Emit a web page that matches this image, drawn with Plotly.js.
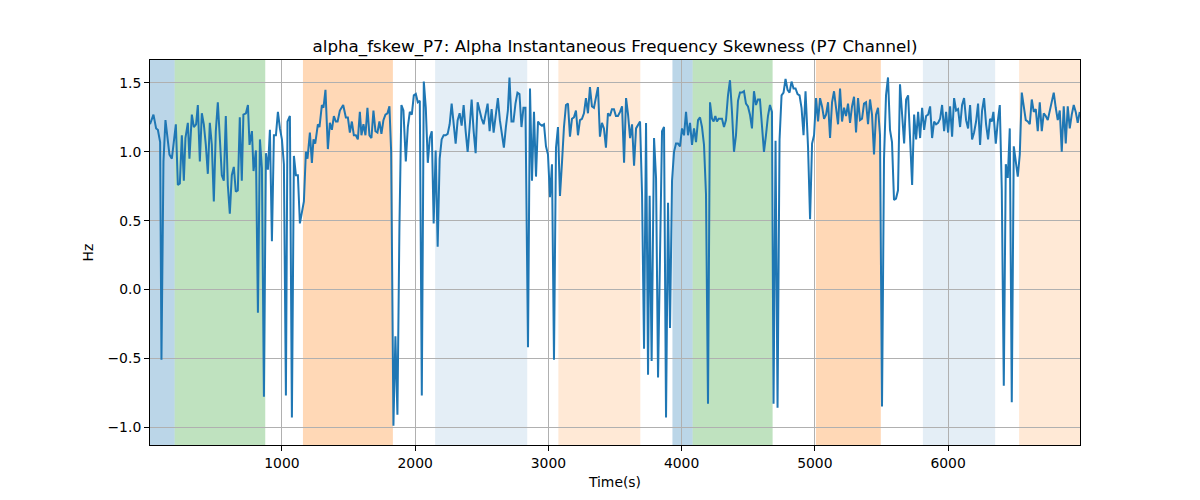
<!DOCTYPE html>
<html>
<head>
<meta charset="utf-8">
<script src="https://cdn.plot.ly/plotly-3.0.1.min.js"></script>
<style>html,body{margin:0;padding:0;background:#fff;}#chart{width:1200px;height:500px;}</style>
</head>
<body>
<div id="chart"></div>
<script>
const timeSec = [10,36,56,69,86,96,111,126,156,174,204,219,234,249,264,276,294,306,324,339,356,369,384,399,414,429,444,459,474,489,504,519,534,549,564,579,594,609,624,639,654,669,684,699,711,
730,745,757,775,787,805,820,835,850,865,880,895,910,925,940,955,970,985,1000,1015,1030,1042,1060,1075,1090,1105,1120,1135,1150,1165,1180,1192,1210,1225,1237,1250,1270,1282,1300,1312,1327,1345,1360,1375,1390,1405,
1418,1435,1460,1480,1495,1510,1525,1540,1555,1570,1585,1597,1612,1627,1642,1657,1672,1687,1702,1717,1732,1747,1762,1777,1792,1807,1820,1837,1852,1867,1882,1897,1912,1930,1945,1960,1975,1990,2005,2020,2035,2050,2065,2080,2095,2110,2125,
2139,2154,2169,2184,2199,2214,2229,2244,2259,2274,2289,2304,2319,2334,2349,2364,2379,2394,2409,2424,2439,2454,2469,2484,2499,2514,2529,2544,2559,2574,2589,2604,2621,2636,2651,2666,2681,2696,2708,2723,2738,2753,2768,2783,2798,2813,2828,
2847,2862,2877,2892,2907,2922,2937,2952,2967,2982,2997,3012,3027,3042,3057,3072,3087,3102,3117,3132,3147,3162,3177,3192,3207,3222,3237,3252,3267,3282,3297,3312,3327,3342,3357,3372,3387,3402,3417,3432,3447,3462,3477,3492,3507,3522,
3538,3553,3568,3583,3598,3613,3628,3643,3658,3673,3688,3703,3718,3733,3748,3760,3775,3793,3808,3823,3838,3853,3868,3883,3898,3913,3928,3943,3958,3973,3988,4003,4018,4033,4048,4063,4078,4093,4108,4123,4138,4153,4168,4183,4198,4213,4228,
4240,4253,4265,4278,4290,4303,4318,4333,4348,4363,4378,4393,4408,4423,4438,4453,4468,4483,4498,4513,4528,4543,4558,4573,4588,4603,4618,4633,4648,4663,4678,4690,4705,4720,4735,4750,4765,4780,4795,4810,4825,4840,4855,4870,4885,4900,4915,4930,
4949,4964,4979,4994,5009,5024,5039,5054,5069,5084,5099,5114,5129,5144,5159,5174,5189,5204,5219,5234,5249,5264,5279,5294,5309,5324,5339,5354,5369,5384,5399,5414,5429,5444,5459,5474,5489,5504,5519,5534,5549,5564,5579,5594,5609,5624,5639,
5655,5670,5685,5700,5715,5730,5745,5760,5775,5790,5805,5820,5835,5850,5865,5880,5895,5910,5925,5940,5955,5970,5985,6000,6015,6030,6045,6060,6075,6090,6105,6120,6135,6150,6165,6180,6195,6210,6225,6240,6255,6270,6285,6300,
6315,6328,6340,6358,6373,6388,6403,6418,6433,6448,6463,6478,6493,6508,6523,6538,6553,6568,6583,6598,6613,6628,6643,6658,6673,6688,6703,6718,6733,6748,6763,6778,6793,6808,6823,6838,6853,6868,6883,6898,6913,6928,6943,6958,6973,6988];

const skewHz = [1.20,1.27,1.17,1.16,1.07,-0.51,0.93,1.23,0.98,0.95,1.20,0.76,0.77,1.12,0.79,1.10,1.21,0.95,1.27,1.18,1.20,1.34,0.93,1.28,1.20,1.05,0.84,1.21,1.05,0.64,1.15,1.36,1.10,0.83,0.79,1.26,0.76,0.55,0.83,0.89,0.71,0.72,1.25,0.79,1.27,
1.28,1.34,1.05,1.15,0.86,1.01,-0.17,1.09,0.88,-0.78,0.99,0.87,1.16,0.35,1.12,1.12,1.29,1.17,1.09,0.91,-0.77,1.22,1.26,-0.93,0.97,0.83,0.83,0.48,0.57,0.64,1.00,0.95,1.14,0.92,1.09,1.06,1.20,1.18,1.34,1.32,1.45,1.02,1.21,1.16,1.26,1.22,
1.22,1.30,1.34,1.25,1.25,1.14,1.22,1.12,1.12,1.09,1.29,1.12,1.20,1.12,1.32,1.12,1.10,1.30,1.15,1.14,1.22,1.13,1.23,1.27,1.28,1.33,1.00,-0.99,-0.34,-0.91,0.45,1.34,1.30,0.93,1.18,1.29,1.27,1.41,1.42,1.36,1.37,-0.77,1.51,1.32,0.92,1.10,1.15,
0.48,1.01,0.31,0.95,1.09,1.12,1.12,1.13,1.20,1.35,1.20,1.06,1.23,1.28,1.19,1.34,1.15,1.00,1.18,1.38,1.15,0.99,1.36,1.29,1.24,1.20,1.28,1.35,1.15,1.31,1.14,1.26,1.39,1.23,1.12,1.03,1.18,1.30,1.54,1.22,1.22,1.35,1.43,1.42,1.18,1.32,1.32,
-0.42,1.46,0.79,1.29,0.82,1.22,1.20,1.19,1.20,1.04,0.98,0.67,0.91,-0.51,1.03,1.18,0.68,0.92,1.18,1.34,1.35,1.11,1.24,1.25,1.30,1.12,1.23,1.24,1.28,1.39,1.28,1.47,1.33,1.32,1.41,1.47,1.11,1.21,1.17,1.03,1.28,1.26,1.31,1.31,1.26,1.26,
1.29,1.33,0.92,1.39,1.27,1.10,1.20,0.90,1.17,1.20,1.22,0.69,-0.43,1.21,-0.62,0.68,-0.52,1.10,0.81,-0.64,0.28,1.15,1.18,-0.93,0.63,-0.28,0.79,1.00,1.06,1.06,1.04,1.17,1.12,1.29,1.12,1.21,1.05,1.17,1.07,1.23,1.25,1.18,1.05,0.69,-0.83,1.36,1.24,
1.22,1.26,1.22,1.24,1.24,1.24,1.18,1.23,1.41,1.52,1.29,1.00,1.12,1.37,1.43,1.43,1.44,1.35,1.33,1.27,1.17,1.44,1.34,1.38,1.38,1.18,1.00,1.12,1.26,1.34,1.29,-0.83,1.08,-0.86,1.09,1.41,1.43,1.53,1.45,1.43,1.51,1.46,1.46,1.42,1.41,1.32,1.12,1.44,
1.03,0.51,1.06,1.12,1.39,1.22,1.39,1.33,1.24,1.27,1.36,1.10,1.36,1.44,1.30,1.20,1.46,1.22,1.32,1.26,1.35,1.21,1.33,1.40,1.14,1.39,1.23,1.24,1.35,1.36,1.20,1.38,1.27,0.98,1.27,1.32,1.12,-0.85,0.95,1.41,1.54,1.16,1.07,0.65,0.66,0.72,1.49,
1.29,1.06,1.38,1.41,1.09,0.76,1.27,1.09,1.29,1.10,1.32,1.16,1.26,1.27,1.33,1.10,1.22,1.20,1.21,1.24,1.34,1.15,1.29,1.14,1.33,1.11,1.39,1.30,1.31,1.18,1.34,1.39,1.23,1.17,1.34,1.09,1.14,1.22,1.35,1.05,1.30,1.39,1.20,1.09,
1.24,1.22,1.29,1.06,1.22,1.34,0.72,-0.70,0.91,0.81,1.17,-0.82,1.04,0.93,0.82,0.98,1.43,1.33,1.23,1.22,1.20,1.38,1.29,1.31,1.15,1.36,1.15,1.28,1.26,1.23,1.29,1.35,1.43,1.32,1.23,1.30,1.00,1.33,1.06,1.33,1.17,1.27,1.34,1.29,1.21,1.29];

// shaded spans: [start, end, color key]
const spanStart = [10, 195, 1158, 2150, 3075, 3931, 4083, 5008, 5811, 6533];
const spanEnd   = [195, 875, 1833, 2841, 3690, 4083, 4683, 5495, 6353, 6990];
const spanKind  = ['blue','green','orange','lightblue','lightorange','blue','green','orange','lightblue','lightorange'];

const kindColor = {
  blue: 'rgba(31,119,180,0.3)',
  green: 'rgba(44,160,44,0.3)',
  orange: 'rgba(255,127,14,0.3)',
  lightblue: 'rgba(31,119,180,0.12)',
  lightorange: 'rgba(255,127,14,0.17)'
};

const shapes = spanStart.map((s, i) => ({
  type: 'rect', xref: 'x', yref: 'paper', x0: s, x1: spanEnd[i], y0: 0, y1: 1,
  fillcolor: kindColor[spanKind[i]], line: {width: 0}, layer: 'below'
}));

const trace = {
  x: timeSec, y: skewHz, type: 'scatter', mode: 'lines',
  line: {color: '#1f77b4', width: 2}, hoverinfo: 'skip'
};

const font = {family: 'DejaVu Sans, sans-serif', size: 13.9, color: '#000'};

const layout = {
  width: 1200, height: 500,
  margin: {l: 150, r: 120, t: 60, b: 55},
  paper_bgcolor: '#fff', plot_bgcolor: '#fff',
  font: font,
  showlegend: false,
  title: {text: 'alpha_fskew_P7: Alpha Instantaneous Frequency Skewness (P7 Channel)',
          font: {family: 'DejaVu Sans, sans-serif', size: 16.7, color: '#000'},
          x: 0.5, xref: 'paper', xanchor: 'center', y: 0.907, yanchor: 'middle'},
  xaxis: {
    range: [10, 6990], tickvals: [1000,2000,3000,4000,5000,6000],
    showgrid: true, gridcolor: '#b0b0b0', gridwidth: 1,
    showline: true, linecolor: '#000', linewidth: 1, mirror: true,
    ticks: 'outside', ticklen: 5, tickcolor: '#000', zeroline: false,
    title: {text: 'Time(s)', font: font, standoff: 7}
  },
  yaxis: {
    range: [-1.13, 1.667], tickvals: [-1.0,-0.5,0.0,0.5,1.0,1.5], tickformat: '.1f',
    showgrid: true, gridcolor: '#b0b0b0', gridwidth: 1,
    showline: true, linecolor: '#000', linewidth: 1, mirror: true,
    ticks: 'outside', ticklen: 5, tickcolor: '#000', zeroline: false,
    title: {text: 'Hz', font: font, standoff: 10}
  },
  shapes: shapes
};

Plotly.newPlot('chart', [trace], layout, {displayModeBar: false, staticPlot: true});
</script>
</body>
</html>
